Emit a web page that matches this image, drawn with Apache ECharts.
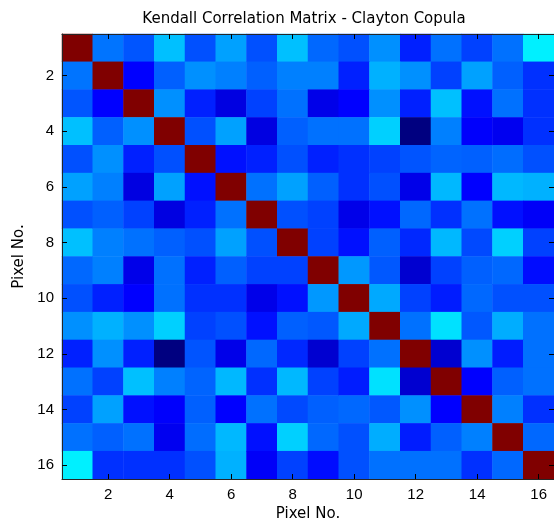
<!DOCTYPE html>
<html>
<head>
<meta charset="utf-8">
<style>
  html, body { margin: 0; padding: 0; background: #fff; }
  #chart { width: 554px; height: 527px; }
</style>
<script src="https://cdn.jsdelivr.net/npm/echarts@6/dist/echarts.min.js"></script>
</head>
<body>
<div id="chart"></div>
<script>
// Pixel indices along both axes
const pixels = ['1','2','3','4','5','6','7','8','9','10','11','12','13','14','15','16'];

// Kendall tau, upper triangle (row i holds columns i..16; diagonal = 1)
const tauUpper = [
  [1, 0.238, 0.208, 0.313, 0.203, 0.282, 0.203, 0.313, 0.227, 0.203, 0.266, 0.156, 0.235, 0.188, 0.235, 0.360],
  [1, 0.125, 0.219, 0.266, 0.250, 0.219, 0.250, 0.250, 0.156, 0.298, 0.266, 0.188, 0.282, 0.219, 0.172],
  [1, 0.266, 0.156, 0.095, 0.188, 0.235, 0.103, 0.125, 0.266, 0.156, 0.313, 0.141, 0.235, 0.172],
  [1, 0.203, 0.282, 0.095, 0.219, 0.235, 0.235, 0.329, 0.000, 0.250, 0.122, 0.110, 0.172],
  [1, 0.141, 0.156, 0.203, 0.156, 0.172, 0.188, 0.207, 0.223, 0.219, 0.231, 0.203],
  [1, 0.235, 0.282, 0.219, 0.172, 0.203, 0.103, 0.305, 0.125, 0.305, 0.298],
  [1, 0.203, 0.188, 0.103, 0.141, 0.227, 0.172, 0.235, 0.141, 0.118],
  [1, 0.188, 0.141, 0.219, 0.164, 0.305, 0.196, 0.329, 0.188],
  [1, 0.274, 0.211, 0.079, 0.188, 0.219, 0.227, 0.137],
  [1, 0.290, 0.188, 0.152, 0.227, 0.203, 0.203],
  [1, 0.235, 0.345, 0.211, 0.294, 0.235],
  [1, 0.079, 0.266, 0.152, 0.235],
  [1, 0.125, 0.219, 0.235],
  [1, 0.250, 0.172],
  [1, 0.227],
  [1]
];

// Tick labels shown on both axes
const tickLabels = ['2','4','6','8','10','12','14','16'];

const n = pixels.length;
const cells = [];
for (let i = 0; i < n; i++) {
  for (let j = i; j < n; j++) {
    const v = tauUpper[i][j - i];
    cells.push([j, i, v]);
    if (j !== i) cells.push([i, j, v]);
  }
}
const allVals = cells.map(c => c[2]);
const vMin = Math.min.apply(null, allVals);
const vMax = Math.max.apply(null, allVals);

const showTick = (idx) => tickLabels.indexOf(pixels[idx]) >= 0;
const tickFont = 'Liberation Sans, Arial, Helvetica, sans-serif';
const textFont = 'DejaVu Sans, sans-serif';
const lineStyle = { color: '#262626', width: 1 };
const tickStyle = { color: '#000000', width: 1 };

const chart = echarts.init(document.getElementById('chart'), null, { renderer: 'canvas' });
chart.setOption({
  animation: false,
  backgroundColor: '#ffffff',
  title: {
    text: 'Kendall Correlation Matrix - Clayton Copula',
    left: 299, top: 7, textAlign: 'center',
    textStyle: { fontFamily: textFont, fontSize: 15, fontWeight: 'normal', color: '#000' }
  },
  grid: { left: 62, top: 34, width: 493, height: 446, containLabel: false },
  xAxis: [
    {
      type: 'category', data: pixels, position: 'bottom', z: 10,
      name: 'Pixel No.', nameLocation: 'middle', nameGap: 28,
      nameTextStyle: { fontFamily: textFont, fontSize: 15, color: '#000' },
      axisLine: { show: true, lineStyle },
      axisTick: { show: true, inside: true, length: 5, alignWithLabel: true, interval: showTick, lineStyle: tickStyle },
      axisLabel: { interval: showTick, margin: 8, fontFamily: tickFont, fontSize: 15, color: '#000' },
      splitLine: { show: false }
    },
    {
      type: 'category', data: pixels, position: 'top', z: 10,
      axisLine: { show: true, lineStyle },
      axisTick: { show: true, inside: true, length: 5, alignWithLabel: true, interval: showTick, lineStyle: tickStyle },
      axisLabel: { show: false }, splitLine: { show: false }
    }
  ],
  yAxis: [
    {
      type: 'category', data: pixels, inverse: true, position: 'left', z: 10,
      name: 'Pixel No.', nameLocation: 'middle', nameGap: 27, nameRotate: 90,
      nameTextStyle: { fontFamily: textFont, fontSize: 15, color: '#000' },
      axisLine: { show: true, lineStyle },
      axisTick: { show: true, inside: true, length: 5, alignWithLabel: true, interval: showTick, lineStyle: tickStyle },
      axisLabel: { interval: showTick, margin: 8, fontFamily: tickFont, fontSize: 15, color: '#000' },
      splitLine: { show: false }
    },
    {
      type: 'category', data: pixels, inverse: true, position: 'right', z: 10,
      axisLine: { show: true, lineStyle },
      axisTick: { show: true, inside: true, length: 5, alignWithLabel: true, interval: showTick, lineStyle: tickStyle },
      axisLabel: { show: false }, splitLine: { show: false }
    }
  ],
  visualMap: {
    show: false, type: 'continuous', min: vMin, max: vMax, dimension: 2, seriesIndex: 0,
    inRange: { color: ['#000080', '#0000ff', '#0080ff', '#00ffff', '#80ff80', '#ffff00', '#ff8000', '#ff0000', '#800000'] }
  },
  series: [{
    type: 'heatmap', xAxisIndex: 0, yAxisIndex: 0, data: cells, z: 2,
    itemStyle: { borderWidth: 0 },
    emphasis: { disabled: true }
  }]
});
</script>
</body>
</html>
